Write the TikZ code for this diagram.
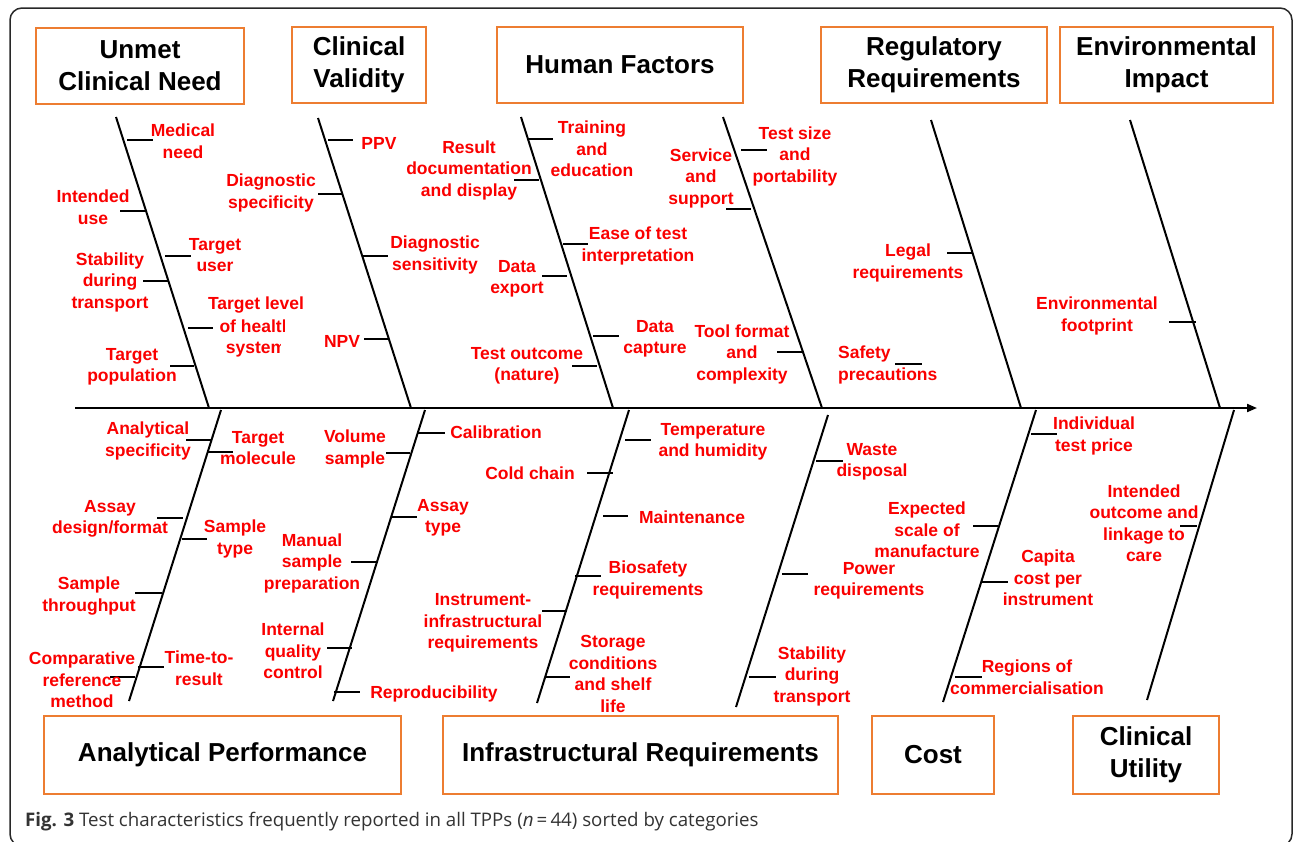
\documentclass[tikz,border=0pt]{standalone}
\usepackage{fontspec}
\setmainfont{Liberation Sans}
\newfontfamily\capfont{Open Sans}
\usetikzlibrary{arrows.meta}
\definecolor{boxorange}{RGB}{237,125,49}
\definecolor{labred}{RGB}{250,0,0}
\definecolor{framegray}{RGB}{40,40,40}
\begin{document}
\begin{tikzpicture}[x=1pt,y=-1pt,
  head/.style={draw=boxorange, line width=2.2pt, font=\bfseries\fontsize{26}{32}\selectfont, align=center, inner sep=0pt},
  lab/.style={text=labred, font=\bfseries\fontsize{17.5}{21.5}\selectfont, align=center, inner sep=0pt},
  bone/.style={line width=2pt, draw=black},
  tick/.style={line width=1.2pt, draw=black}]
\useasboundingbox (0,0) rectangle (1295,841);
\fill[white] (0,0) rectangle (1295,841);
\draw[framegray, line width=1.5pt, rounded corners=12pt] (10,8) rectangle (1292,846);

% headers
\node[head, minimum width=208pt, minimum height=76pt] (hUnmet) at (140,66) {Unmet\\Clinical Need};
\node[head, minimum width=134pt, minimum height=76pt] (hValid) at (359,65) {Clinical\\Validity};
\node[head, minimum width=246pt, minimum height=76pt] (hHuman) at (620,65) {Human Factors};
\node[head, minimum width=226pt, minimum height=76pt] (hReg) at (934,65) {Regulatory\\Requirements};
\node[head, minimum width=213pt, minimum height=76pt] (hEnv) at (1166.5,65) {Environmental\\Impact};
\node[head, minimum width=357pt, minimum height=78pt] (hAna) at (222.5,755) {Analytical Performance};
\node[head, minimum width=395pt, minimum height=78pt] (hInf) at (640.5,755) {Infrastructural Requirements};
\node[head, minimum width=122pt, minimum height=78pt] (hCost) at (933,755) {Cost};
\node[head, minimum width=146pt, minimum height=78pt] (hUtil) at (1146,755) {Clinical\\Utility};

% spine
\coordinate (sL) at (75,408);
\coordinate (sR) at (1257,408);
\draw[bone, -{Triangle[length=10pt,width=8pt]}] (sL) -- (sR);

% top bones
\coordinate (t1a) at (116,117); \coordinate (t1b) at (209,408);
\coordinate (t2a) at (318,118); \coordinate (t2b) at (411,408);
\coordinate (t3a) at (521,117); \coordinate (t3b) at (613,408);
\coordinate (t4a) at (723,117); \coordinate (t4b) at (822,408);
\coordinate (t5a) at (931,120); \coordinate (t5b) at (1021,408);
\coordinate (t6a) at (1130,120); \coordinate (t6b) at (1220,408);
\foreach \i in {1,...,6} {\draw[bone] (t\i a) -- (t\i b);}
% bottom bones
\coordinate (b1a) at (221,410); \coordinate (b1b) at (129,701);
\coordinate (b2a) at (425,410); \coordinate (b2b) at (333,701);
\coordinate (b3a) at (629,410); \coordinate (b3b) at (537,703);
\coordinate (b4a) at (828,415); \coordinate (b4b) at (736,707);
\coordinate (b5a) at (1036,410); \coordinate (b5b) at (943,702);
\coordinate (b6a) at (1234,410); \coordinate (b6b) at (1147,700);
\foreach \i in {1,...,6} {\draw[bone] (b\i a) -- (b\i b);}

% ticks top
\draw[tick] (127,140) -- (153,140);
\draw[tick] (120,211) -- (146,211);
\draw[tick] (165,256) -- (191,256);
\draw[tick] (143,281) -- (168,281);
\draw[tick] (188,328) -- (213,328);
\draw[tick] (170,366) -- (194,366);
\draw[tick] (328,140) -- (353,140);
\draw[tick] (318,194) -- (342,194);
\draw[tick] (363,256) -- (388,256);
\draw[tick] (364,339) -- (388,339);
\draw[tick] (528,139) -- (553,139);
\draw[tick] (514,180) -- (539,180);
\draw[tick] (563,244) -- (588,244);
\draw[tick] (542,276) -- (567,276);
\draw[tick] (593,336) -- (619,336);
\draw[tick] (572,366) -- (597,366);
\draw[tick] (741,150) -- (767,150);
\draw[tick] (726,209) -- (751,209);
\draw[tick] (777,352) -- (802,352);
\draw[tick] (895,364) -- (922,364);
\draw[tick] (947,253) -- (972,253);
\draw[tick] (1169,322) -- (1196,322);
% ticks bottom
\draw[tick] (186,440) -- (211,440);
\draw[tick] (208,452) -- (233,452);
\draw[tick] (157,518) -- (183,518);
\draw[tick] (182,539) -- (207,539);
\draw[tick] (135,593) -- (162,593);
\draw[tick] (110,677) -- (135,677);
\draw[tick] (138,667) -- (164,667);
\draw[tick] (386,453) -- (410,453);
\draw[tick] (418,433) -- (445,433);
\draw[tick] (392,517) -- (417,517);
\draw[tick] (351,562) -- (376,562);
\draw[tick] (327,648) -- (352,648);
\draw[tick] (334,692) -- (360,692);
\draw[tick] (625,440) -- (651,440);
\draw[tick] (587,473) -- (613,473);
\draw[tick] (603,516) -- (628,516);
\draw[tick] (575,576) -- (601,576);
\draw[tick] (542,611) -- (567,611);
\draw[tick] (545,677) -- (570,677);
\draw[tick] (816,461) -- (843,461);
\draw[tick] (782,574) -- (808,574);
\draw[tick] (749,677) -- (776,677);
\draw[tick] (1031,434) -- (1057,434);
\draw[tick] (973,526) -- (998,526);
\draw[tick] (982,582) -- (1008,582);
\draw[tick] (955,677) -- (982,677);
\draw[tick] (1180,526) -- (1197,526);

% labels top
\node[lab] (lMed) at (183,141) {Medical\\need};
\node[lab] (lInt) at (93,207) {Intended\\use};
\node[lab] (lTuser) at (215,255) {Target\\user};
\node[lab] (lStab1) at (110,282) {Stability\\during\\transport};
\node[lab] (lTlev) at (256,305) {Target level};
\begin{scope}
\clip (200,316) -- (284,316) -- (284,339) -- (280,339) -- (280,362) -- (200,362) -- cycle;
\node[lab] (lHealth) at (256,338.5) {of health\\system};
\end{scope}
\node[lab] (lTpop) at (132,367) {Target\\population};
\node[lab] (lPPV) at (379,143) {PPV};
\node[lab] (lDspec) at (271,193) {Diagnostic\\specificity};
\node[lab] (lDsens) at (435,255) {Diagnostic\\sensitivity};
\node[lab] (lNPV) at (342,341) {NPV};
\node[lab] (lTrain) at (592,149) {Training\\and\\education};
\node[lab] (lResult) at (469,170) {Result\\documentation\\and display};
\node[lab] (lEase) at (638,246) {Ease of test\\interpretation};
\node[lab] (lExport) at (517,279) {Data\\export};
\node[lab] (lCapture) at (655,339) {Data\\capture};
\node[lab] (lOutcome) at (527,366) {Test outcome\\(nature)};
\node[lab] (lSize) at (795,156) {Test size\\and\\portability};
\node[lab] (lService) at (701,178) {Service\\and\\support};
\node[lab] (lTool) at (742,354) {Tool format\\and\\complexity};
\node[lab, align=left, anchor=west] (lSafety) at (838,365) {Safety\\precautions};
\node[lab] (lLegal) at (908,263) {Legal\\requirements};
\node[lab] (lEnvfp) at (1097,316) {Environmental\\footprint};

% labels bottom
\node[lab] (lAspec) at (148,441) {Analytical\\specificity};
\node[lab] (lTmol) at (258,448) {Target\\molecule};
\node[lab] (lAssay) at (110,519) {Assay\\design/format};
\node[lab] (lStype) at (235,539) {Sample\\type};
\node[lab] (lSthru) at (89,596) {Sample\\throughput};
\node[lab] (lComp) at (82,680) {Comparative\\reference\\method};
\node[lab] (lTtr) at (199,668) {Time-to-\\result};
\node[lab] (lVol) at (355,449) {Volume\\sample};
\node[lab] (lCalib) at (496,432) {Calibration};
\node[lab] (lAtype) at (443,518) {Assay\\type};
\node[lab] (lManual) at (312,563) {Manual\\sample\\preparation};
\node[lab] (lIqc) at (293,651) {Internal\\quality\\control};
\node[lab] (lRepro) at (434,694) {Reproducibility};
\node[lab] (lTemp) at (713,442) {Temperature\\and humidity};
\node[lab] (lCold) at (530,473) {Cold chain};
\node[lab] (lMaint) at (692,517) {Maintenance};
\node[lab] (lBio) at (648,580) {Biosafety\\requirements};
\node[lab] (lInstr) at (483,623) {Instrument-\\infrastructural\\requirements};
\node[lab] (lStorage) at (613,674) {Storage\\conditions\\and shelf\\life};
\node[lab] (lWaste) at (872,462) {Waste\\disposal};
\node[lab] (lPower) at (869,581) {Power\\requirements};
\node[lab] (lStab2) at (812,676) {Stability\\during\\transport};
\node[lab] (lIndiv) at (1094,436) {Individual\\test price};
\node[lab] (lExpect) at (927,530) {Expected\\scale of\\manufacture};
\node[lab] (lCapita) at (1048,578) {Capita\\cost per\\instrument};
\node[lab] (lRegions) at (1027,677) {Regions of\\commercialisation};
\node[lab] (lIntout) at (1144,523) {Intended\\outcome and\\linkage to\\care};

% caption
\node[anchor=west, inner sep=0pt, text=black!80, font=\capfont\fontsize{18.7}{22}\selectfont] (cap) at (25,822)
  {\textbf{Fig. 3} Test characteristics frequently reported in all TPPs (\textit{n}\,=\,44) sorted by categories};
\end{tikzpicture}
\end{document}
